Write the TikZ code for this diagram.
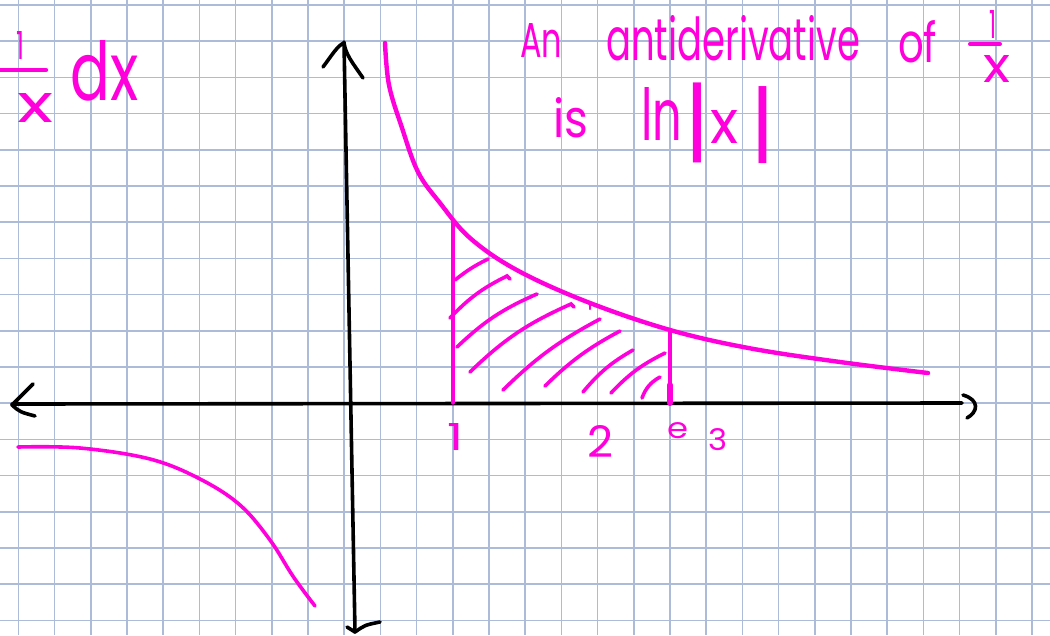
\documentclass[tikz,border=0pt]{standalone}
\usepackage{fontspec}
\setmainfont{Poppins}
\definecolor{pen}{RGB}{255,0,220}
\definecolor{gridc}{RGB}{172,188,216}
\newcommand{\hw}[3]{\resizebox{#1pt}{#2pt}{#3}}
\newcommand{\hv}[2]{\resizebox*{!}{#1pt}{#2}}
\tikzset{
  gridline/.style={gridc, line width=1.6pt},
  axisline/.style={black, line width=3.6pt, line cap=round, line join=round},
  penline/.style={pen, line width=4.4pt, line cap=round, line join=round},
  hatchline/.style={pen, line width=3.6pt, line cap=round},
  hand/.style={pen, inner sep=0pt, anchor=base west},
  handc/.style={pen, inner sep=0pt, anchor=center}
}
\begin{document}
\begin{tikzpicture}[x=1pt,y=-1pt]
\useasboundingbox (0,0) rectangle (1050,635);
\fill[white] (0,0) rectangle (1050,635);
% grid
\foreach \k in {0,...,28} {\draw[gridline] ({18.3+36.2*\k},0) -- ({18.3+36.2*\k},635);}
\foreach \k in {0,...,17} {\draw[gridline] (0,{5+36.2*\k}) -- (1050,{5+36.2*\k});}
% axes
\coordinate (xl) at (12,404);
\coordinate (xr) at (962,403);
\coordinate (yt) at (344,42);
\coordinate (yb) at (355,632);
\draw[axisline] (xl) -- (xr);
\draw[axisline] (yt) -- (yb);
\draw[axisline] (33,384) .. controls (22,394) .. (12,405) .. controls (20,412) .. (35,416);
\draw[axisline] (963,395) .. controls (980,400) and (978,412) .. (967,418);
\draw[axisline] (323,67) .. controls (332,55) and (338,45) .. (344,43) .. controls (346,55) and (352,62) .. (363,78);
\draw[axisline] (347,627) -- (355,632) .. controls (365,625) .. (380,622);
% right branch
\draw[penline] plot[smooth, tension=0.6] coordinates {(385,43) (389,85) (401.7,127) (418,172) (440,203) (470,238) (516.7,270) (586.7,301.7) (670,330) (750,348.3) (840,362) (928,373)};
% left branch
\draw[penline, line width=3.6pt] plot[smooth, tension=0.6] coordinates {(18,447) (80,448) (150,459) (200,479) (240,505) (270,540) (293.3,576.7) (315,606)};
% bounds
\coordinate (a1) at (453,220);
\coordinate (a0) at (453,403);
\coordinate (e1) at (670,330);
\coordinate (e0) at (670,403);
\draw[penline, line width=3.4pt] (a1) -- (a0);
\draw[penline, line width=4.4pt] (e1) -- (e0);
\draw[penline, line width=6pt] (670,385) -- (670,403);
% hatching
\draw[hatchline] (455,280) to[bend left=6] (488,259);
\draw[hatchline] (450,318) to[bend left=10] (507,276) -- (510,279);
\draw[hatchline] (457,347) to[bend left=10] (537,294);
\draw[hatchline] (470,372) to[bend left=10] (571,304) -- (574,307);
\draw[hatchline, line width=2.4pt] (590,305) -- (590,309);
\draw[hatchline] (503,390) to[bend left=8] (600,319);
\draw[hatchline] (545,386) to[bend left=8] (620,331);
\draw[hatchline] (583,392) to[bend left=10] (633,350);
\draw[hatchline] (611,393) to[bend left=10] (665,353);
\draw[hatchline] (642,398) to[bend left=20] (660,377);
% axis labels
\node[hand] (l1) at (447,450) {\hw{16}{27}{1}};
\node[hand] (l2) at (587,457) {\hw{26}{32}{2}};
\node[hand] (le) at (667,438) {\hw{21}{16}{e}};
\node[hand] (l3) at (708,450) {\hw{19}{22}{3}};
% top-left integrand
\node[hand] (n1) at (16,59) {\hw{8}{28}{1}};
\draw[penline, line width=4.4pt] (0,70) -- (46,70);
\node[hand] (d1) at (17,122) {\hw{36}{29}{x}};
\node[hand] (dx) at (70,100) {\hw{68}{60}{dx}};
% top-right text
\node[hand] (an) at (520,57) {\hw{42}{34}{An}};
\node[hand] (anti) at (606,60) {\hw{254}{45}{antiderivative}};
\node[hand] (of) at (898,62) {\hw{39}{42}{of}};
\node[hand] (n2) at (989,38) {\hw{7}{28}{1}};
\draw[penline, line width=4pt] (970,44) -- (1000,44);
\node[hand] (d2) at (983,82) {\hw{27}{27}{x}};
\node[hand] (is) at (553,137) {\hw{35}{40}{is}};
\node[hand] (ln) at (641,140) {\hw{41}{53}{ln}};
\node[handc] (bar1) at (697,123) {\hv{80}{|}};
\node[hand] (xx) at (710,143) {\hw{28}{33}{x}};
\node[handc] (bar2) at (763,125) {\hv{77}{|}};
\end{tikzpicture}
\end{document}
